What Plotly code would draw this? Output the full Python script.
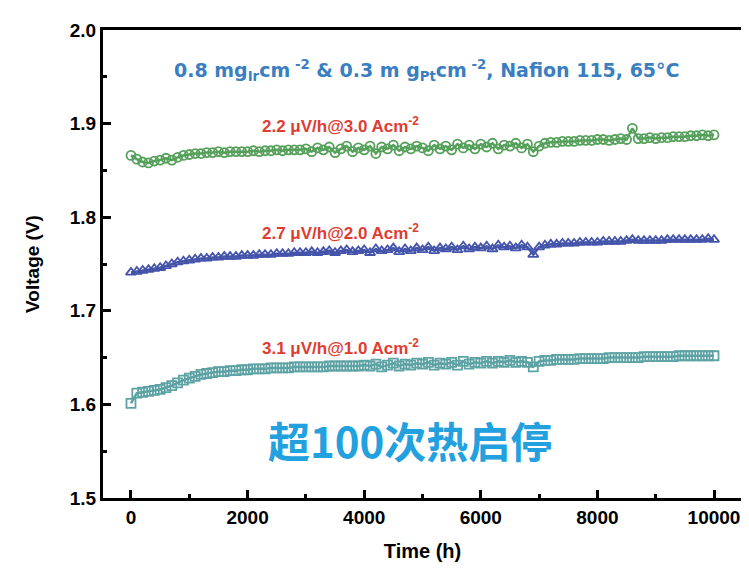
import plotly.graph_objects as go

time_h = [i * 100 for i in range(101)]

v_3A = [1.866,1.862,1.859,1.858,1.860,1.861,1.863,1.861,1.864,1.866,
        1.867,1.868,1.868,1.869,1.869,1.870,1.869,1.870,1.870,1.870,
        1.870,1.871,1.870,1.871,1.871,1.872,1.871,1.872,1.872,1.872,
        1.873,1.870,1.874,1.872,1.875,1.869,1.873,1.876,1.870,1.874,
        1.872,1.876,1.868,1.875,1.873,1.877,1.871,1.875,1.873,1.876,
        1.874,1.871,1.877,1.873,1.876,1.872,1.878,1.874,1.877,1.873,
        1.878,1.875,1.879,1.873,1.877,1.876,1.879,1.874,1.878,1.870,
        1.876,1.879,1.880,1.880,1.881,1.881,1.881,1.882,1.882,1.882,
        1.883,1.883,1.882,1.883,1.884,1.883,1.895,1.884,1.884,1.885,
        1.884,1.885,1.885,1.886,1.886,1.886,1.887,1.887,1.888,1.887,1.888]

v_2A = [1.741,1.742,1.743,1.744,1.745,1.746,1.748,1.750,1.752,1.753,
        1.754,1.755,1.756,1.756,1.757,1.757,1.758,1.758,1.758,1.759,
        1.759,1.759,1.760,1.760,1.760,1.761,1.761,1.761,1.762,1.762,
        1.762,1.763,1.762,1.763,1.764,1.762,1.764,1.765,1.763,1.764,
        1.765,1.762,1.766,1.764,1.765,1.767,1.763,1.766,1.764,1.767,
        1.765,1.768,1.764,1.767,1.766,1.768,1.765,1.769,1.766,1.768,
        1.767,1.769,1.766,1.770,1.768,1.769,1.767,1.770,1.768,1.760,
        1.768,1.770,1.771,1.771,1.772,1.772,1.772,1.773,1.773,1.773,
        1.773,1.774,1.774,1.774,1.774,1.775,1.776,1.775,1.775,1.775,
        1.775,1.775,1.776,1.776,1.776,1.776,1.776,1.776,1.776,1.777,1.776]

v_1A = [1.601,1.612,1.613,1.614,1.615,1.616,1.618,1.620,1.623,1.626,
        1.628,1.630,1.632,1.633,1.634,1.635,1.635,1.636,1.636,1.637,
        1.637,1.638,1.638,1.638,1.639,1.639,1.639,1.639,1.640,1.640,
        1.640,1.640,1.640,1.640,1.641,1.641,1.641,1.641,1.641,1.641,
        1.642,1.641,1.643,1.640,1.642,1.644,1.641,1.643,1.642,1.644,
        1.643,1.645,1.642,1.644,1.643,1.645,1.642,1.646,1.643,1.645,
        1.644,1.646,1.644,1.646,1.645,1.647,1.645,1.646,1.645,1.640,
        1.646,1.647,1.647,1.648,1.648,1.648,1.648,1.649,1.649,1.649,
        1.649,1.649,1.650,1.650,1.650,1.650,1.650,1.650,1.651,1.651,
        1.651,1.651,1.651,1.651,1.652,1.652,1.652,1.652,1.652,1.652,1.652]

x_ticks = [0, 2000, 4000, 6000, 8000, 10000]
y_ticks = [1.5, 1.6, 1.7, 1.8, 1.9, 2.0]

series = [
    ("3.0 A cm-2", v_3A, "#55a05a", "circle-open"),
    ("2.0 A cm-2", v_2A, "#4454aa", "triangle-up-open"),
    ("1.0 A cm-2", v_1A, "#5da2a4", "square-open"),
]

fig = go.Figure()
for name, vals, color, sym in series:
    fig.add_trace(go.Scatter(
        x=time_h, y=vals, mode="lines+markers", name=name,
        line=dict(color=color, width=2.5),
        marker=dict(symbol=sym, size=9, color=color, line=dict(width=1.8, color=color)),
        showlegend=False,
    ))

font_bold = "Liberation Sans, Arial, sans-serif"

fig.update_layout(
    width=741, height=565,
    margin=dict(l=95, r=4, t=22, b=75),
    paper_bgcolor="white", plot_bgcolor="white",
    font=dict(family=font_bold, color="black"),
    xaxis=dict(
        range=[-480, 10480], tickvals=x_ticks, ticktext=[f"<b>{v}</b>" for v in x_ticks],
        ticks="inside", ticklen=8, tickwidth=2.5, tickcolor="black",
        minor=dict(dtick=1000, ticks="inside", ticklen=4, tickwidth=2.5, tickcolor="black"),
        showline=True, linecolor="black", linewidth=3, mirror=True,
        showgrid=False, zeroline=False,
        tickfont=dict(size=19, color="black"),
        title=dict(text="<b>Time (h)</b>", font=dict(size=20, color="black"), standoff=18),
    ),
    yaxis=dict(
        range=[1.5, 2.0], tickvals=y_ticks, ticktext=[f"<b>{v:.1f}</b>" for v in y_ticks],
        ticks="inside", ticklen=8, tickwidth=2.5, tickcolor="black",
        minor=dict(dtick=0.05, ticks="inside", ticklen=4, tickwidth=2.5, tickcolor="black"),
        showline=True, linecolor="black", linewidth=3, mirror=True,
        showgrid=False, zeroline=False,
        tickfont=dict(size=19, color="black"),
        title=dict(text="<b>Voltage (V)</b>", font=dict(size=19, color="black"), standoff=26),
    ),
)

red = "#e03c31"
anns = [
    (5070, 1.957, "<b>0.8 mg<sub>Ir</sub>cm<sup> -2</sup> & 0.3 m g<sub>Pt</sub>cm<sup> -2</sup>, Nafion 115, 65°C</b>", "#3a7fc1", 19, "DejaVu Sans, sans-serif"),
    (3600, 1.898, "<b>2.2 μV/h@3.0 Acm<sup>-2</sup></b>", red, 17, font_bold),
    (3600, 1.784, "<b>2.7 μV/h@2.0 Acm<sup>-2</sup></b>", red, 17, font_bold),
    (3600, 1.661, "<b>3.1 μV/h@1.0 Acm<sup>-2</sup></b>", red, 17, font_bold),
    (4780, 1.562, "<b>超100次热启停</b>", "#22a1de", 42, "Noto Sans CJK SC, sans-serif"),
]
for x, y, t, c, s, fam in anns:
    fig.add_annotation(x=x, y=y, text=t, showarrow=False,
                       font=dict(size=s, color=c, family=fam))

fig.write_html("out.html")
